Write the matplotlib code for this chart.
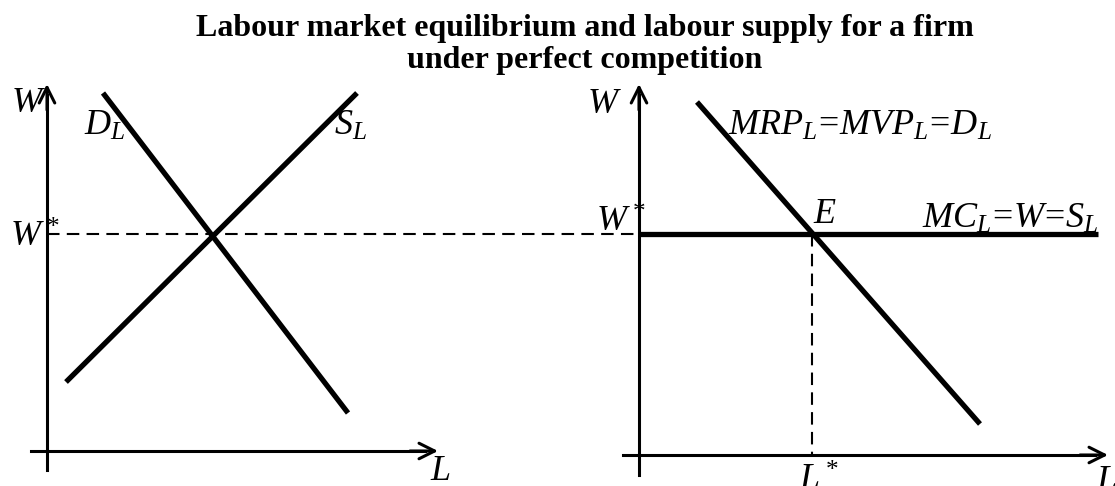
import matplotlib
matplotlib.use("Agg")
import matplotlib.pyplot as plt

# ----- Datos del esquema (coordenadas en píxeles de la figura) -----

# Mercado: demanda y oferta de trabajo
demanda_x = [103, 348]
demanda_y = [93, 413]
oferta_x = [66, 357]
oferta_y = [382, 93]

# Salario de equilibrio
salario_eq = 234

# Empresa: demanda (MRP) y oferta horizontal (MC)
empresa_dem_x = [697, 980]
empresa_dem_y = [102, 424]
empresa_of_x = [639, 1098]
trabajo_eq = 812

# Ejes
eje_izq_x, eje_izq_y = 47, 451
eje_der_x, eje_der_y = 639, 455

titulo = "Labour market equilibrium and labour supply for a firm\nunder perfect competition"

plt.rcParams['mathtext.fontset'] = 'custom'
plt.rcParams['mathtext.rm'] = 'Liberation Serif'
plt.rcParams['mathtext.it'] = 'Liberation Serif:italic'
plt.rcParams['font.family'] = 'Liberation Serif'

fig = plt.figure(figsize=(11.15, 4.86), dpi=100)
ax = fig.add_axes([0, 0, 1, 1])
ax.set_xlim(0, 1115)
ax.set_ylim(486, 0)
ax.axis('off')

flecha = dict(arrowstyle='->', lw=2.2, color='black', mutation_scale=28, shrinkA=0, shrinkB=0)
guiones = (6, 3.5)

# ----- Panel izquierdo -----
ax.plot([eje_izq_x, eje_izq_x], [470, 95], color='black', lw=2.2)
ax.annotate('', xy=(eje_izq_x, 84), xytext=(eje_izq_x, 110), arrowprops=flecha)
ax.plot([31, 425], [eje_izq_y, eje_izq_y], color='black', lw=2.2)
ax.annotate('', xy=(438, eje_izq_y), xytext=(410, eje_izq_y), arrowprops=flecha)

ax.plot([eje_izq_x, eje_der_x], [salario_eq, salario_eq], color='black', lw=1.5, dashes=guiones)
ax.plot(demanda_x, demanda_y, color='black', lw=3.8, solid_capstyle='butt')
ax.plot(oferta_x, oferta_y, color='black', lw=3.8, solid_capstyle='butt')

# ----- Panel derecho -----
ax.plot([eje_der_x, eje_der_x], [475, 95], color='black', lw=2.2)
ax.annotate('', xy=(eje_der_x, 84), xytext=(eje_der_x, 110), arrowprops=flecha)
ax.plot([623, 1095], [eje_der_y, eje_der_y], color='black', lw=2.2)
ax.annotate('', xy=(1108, eje_der_y), xytext=(1080, eje_der_y), arrowprops=flecha)

ax.plot([trabajo_eq, trabajo_eq], [salario_eq, eje_der_y], color='black', lw=1.5, dashes=guiones)
ax.plot(empresa_of_x, [salario_eq, salario_eq], color='black', lw=3.8, solid_capstyle='butt')
ax.plot(empresa_dem_x, empresa_dem_y, color='black', lw=3.8, solid_capstyle='butt')

# ----- Textos -----
fs = 26
ax.text(585, 68, titulo, ha='center', va='baseline', fontsize=23, fontweight='bold',
        linespacing=1.15)

ax.text(11, 112, '$W$', fontsize=fs, va='baseline')
ax.text(84, 135, '$D_L$', fontsize=fs, va='baseline')
ax.text(334, 135, '$S_L$', fontsize=fs, va='baseline')
ax.text(10, 247, '$W^*$', fontsize=fs, va='baseline')
ax.text(430, 480, '$L$', fontsize=fs, va='baseline')

ax.text(587, 113, '$W$', fontsize=fs, va='baseline')
ax.text(596, 232, '$W^*$', fontsize=fs, va='baseline')
ax.text(728, 135, '$MRP_L\\!=\\!MVP_L\\!=\\!D_L$', fontsize=fs, va='baseline')
ax.text(813, 223, '$E$', fontsize=fs, va='baseline')
ax.text(922, 228, '$MC_L\\!=\\!W\\!=\\!S_L$', fontsize=fs, va='baseline')
ax.text(799, 490, '$L^*$', fontsize=fs, va='baseline')
ax.text(1096, 490, '$L$', fontsize=fs, va='baseline')

fig.savefig('out.png', dpi=100)
